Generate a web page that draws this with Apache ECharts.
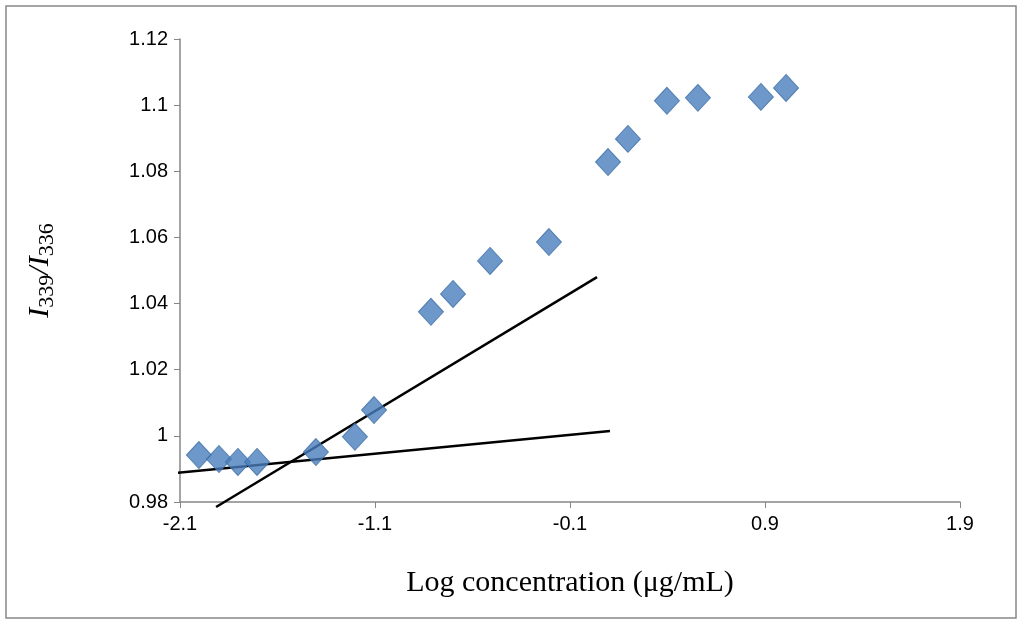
<!DOCTYPE html>
<html><head><meta charset="utf-8">
<script src="https://cdn.jsdelivr.net/npm/echarts@6/dist/echarts.min.js"></script>
<style>html,body{margin:0;padding:0;background:#fff}#c{width:1024px;height:630px}</style>
</head><body><div id="c"></div>
<script>
const xValues = [-2.003,-1.90,-1.803,-1.705,-1.403,-1.203,-1.105,-0.813,-0.700,-0.510,-0.208,0.095,0.197,0.397,0.556,0.879,1.008];
const yValues = [0.9942,0.9930,0.9921,0.9921,0.9951,0.9997,1.0078,1.0375,1.0429,1.0529,1.0586,1.0828,1.0898,1.1013,1.1022,1.1025,1.1052];
const fitLow = [[-2.218,0.9882],[0.105,1.0015]];
const fitHigh = [[-1.915,0.9785],[0.0385,1.048]];
const xTicks = [-2.1,-1.1,-0.1,0.9,1.9];

const chart = echarts.init(document.getElementById('c'));
chart.setOption({
  animation:false,
  graphic:[{type:'rect',shape:{x:6,y:6,width:1010,height:612},style:{fill:'none',stroke:'#888',lineWidth:1.5},silent:true}],
  grid:{left:180,right:64,top:39,bottom:128},
  xAxis:{type:'value',min:-2.1,max:1.9,
    axisLine:{onZero:false,lineStyle:{color:'#868686',width:1.5}},
    axisTick:{customValues:xTicks,length:6,lineStyle:{color:'#868686'}},
    axisLabel:{customValues:xTicks,color:'#000',fontSize:20,fontFamily:'Liberation Sans',margin:12,formatter:v=>String(+v.toFixed(1))},
    splitLine:{show:false},
    name:'Log concentration (μg/mL)',nameLocation:'middle',nameGap:66,
    nameTextStyle:{fontFamily:'Liberation Serif',fontSize:30,color:'#000'}},
  yAxis:{type:'value',min:0.98,max:1.12,interval:0.02,
    axisLine:{show:true,onZero:false,lineStyle:{color:'#868686',width:1.5}},
    axisTick:{show:true,length:6,lineStyle:{color:'#868686'}},
    axisLabel:{color:'#000',fontSize:20,fontFamily:'Liberation Sans',margin:12,formatter:v=>String(+v.toFixed(2))},
    splitLine:{show:false},
    name:'{i|I}{s|339}{i|/I}{s|336}',nameLocation:'middle',nameGap:122,nameRotate:90,
    nameTextStyle:{rich:{i:{fontFamily:'Liberation Serif',fontStyle:'italic',fontSize:30,color:'#000'},
      s:{fontFamily:'Liberation Serif',fontSize:22,color:'#000',padding:[14,0,0,0]}}}},
  series:[
    {type:'line',data:fitLow,symbol:'none',clip:false,lineStyle:{color:'#000',width:2.5},z:3},
    {type:'line',data:fitHigh,symbol:'none',clip:false,lineStyle:{color:'#000',width:2.5},z:3},
    {type:'scatter',data:xValues.map((x,i)=>[x,yValues[i]]),symbol:'diamond',symbolSize:[25,27],
     itemStyle:{color:'#4A7EBB',borderColor:'#3d6fa8',borderWidth:1},z:4}
  ]
});
</script></body></html>
